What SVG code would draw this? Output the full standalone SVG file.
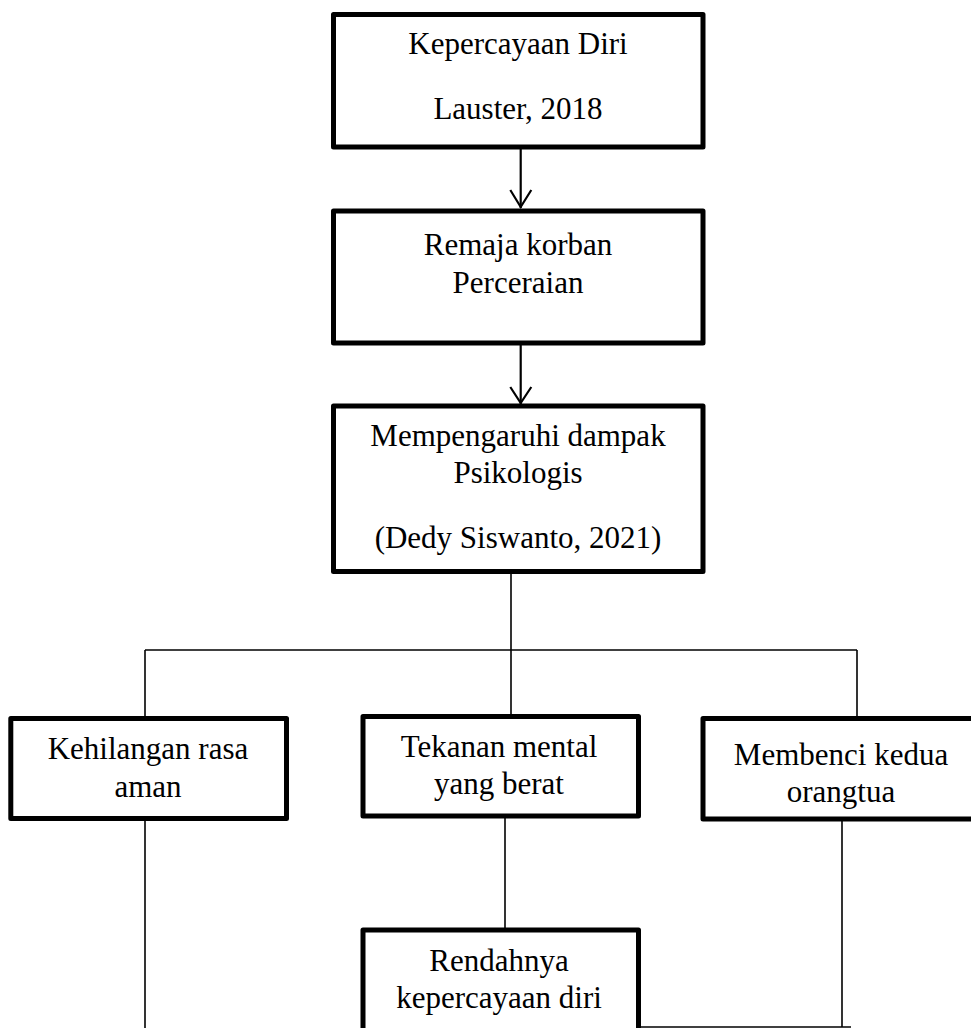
<svg xmlns="http://www.w3.org/2000/svg" width="971" height="1028" viewBox="0 0 971 1028">
<style>
.box{fill:#fff;stroke:#000;stroke-width:5;stroke-linejoin:round}
.t{font-family:"Liberation Serif","Times New Roman",serif;font-size:31px;fill:#000;text-anchor:middle}
.c{fill:none;stroke:#000;stroke-width:1.6}
.a{fill:none;stroke:#000;stroke-width:2.2}
</style>
<rect width="971" height="1028" fill="#fff"/>
<g id="connectors">
<line class="a" x1="520.7" y1="147" x2="520.7" y2="208"/>
<polyline class="a" points="510.3,190 520.7,207 531.3,190"/>
<line class="a" x1="520.7" y1="343" x2="520.7" y2="404"/>
<polyline class="a" points="510.3,387 520.7,403 531.3,387"/>
<line class="c" x1="511" y1="572" x2="511" y2="716"/>
<line class="c" x1="145" y1="650" x2="857" y2="650"/>
<line class="c" x1="145" y1="650" x2="145" y2="718"/>
<line class="c" x1="857" y1="650" x2="857" y2="718"/>
<line class="c" x1="145" y1="815" x2="145" y2="1028"/>
<line class="c" x1="505" y1="811" x2="505" y2="930"/>
<line class="c" x1="842" y1="821" x2="842" y2="1027"/>
<line class="c" x1="638" y1="1027" x2="851" y2="1027"/>
</g>
<g id="n1">
<rect class="box" x="333.5" y="14.5" width="369.5" height="132.5"/>
<text class="t" x="518" y="54">Kepercayaan Diri</text>
<text class="t" x="518" y="119">Lauster, 2018</text>
</g>
<g id="n2">
<rect class="box" x="333.5" y="211" width="369.5" height="132"/>
<text class="t" x="518" y="255">Remaja korban</text>
<text class="t" x="518" y="293">Perceraian</text>
</g>
<g id="n3">
<rect class="box" x="333.5" y="406" width="369.5" height="165.5"/>
<text class="t" x="518" y="446">Mempengaruhi dampak</text>
<text class="t" x="518" y="483">Psikologis</text>
<text class="t" x="518" y="548">(Dedy Siswanto, 2021)</text>
</g>
<g id="n4">
<rect class="box" x="10.8" y="718.5" width="275.7" height="100"/>
<text class="t" x="148" y="759">Kehilangan rasa</text>
<text class="t" x="148" y="797">aman</text>
</g>
<g id="n5">
<rect class="box" x="363" y="716.5" width="275.5" height="99.5"/>
<text class="t" x="499" y="757">Tekanan mental</text>
<text class="t" x="499" y="794">yang berat</text>
</g>
<g id="n6">
<rect class="box" x="703" y="718.5" width="285" height="100.5"/>
<text class="t" x="841" y="765">Membenci kedua</text>
<text class="t" x="841" y="802">orangtua</text>
</g>
<g id="n7">
<rect class="box" x="363" y="930" width="275.5" height="120"/>
<text class="t" x="499" y="971">Rendahnya</text>
<text class="t" x="499" y="1008">kepercayaan diri</text>
</g>
</svg>
